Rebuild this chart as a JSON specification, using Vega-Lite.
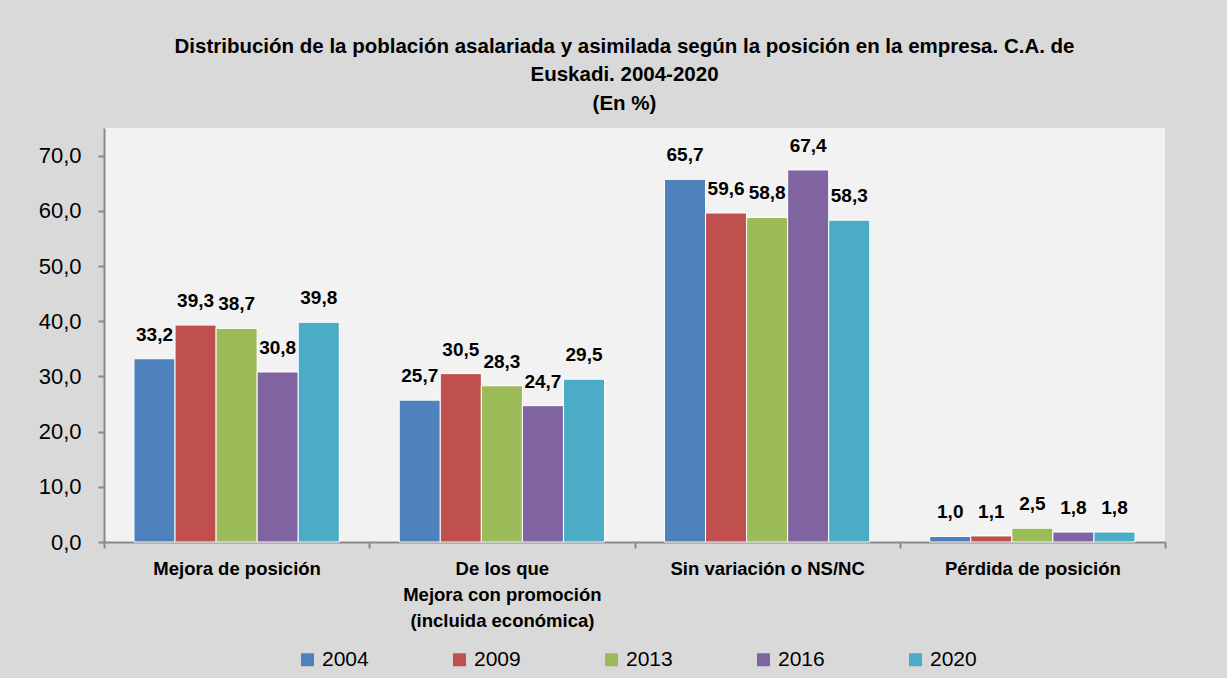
{
  "$schema": "https://vega.github.io/schema/vega-lite/v6.json",
  "autosize": {"type": "none"},
  "width": 1061,
  "height": 414,
  "padding": {"left": 104, "top": 128, "right": 62, "bottom": 136},
  "background": "#d9d9d9",
  "title": {
    "text": ["Distribución de la población asalariada y asimilada según la posición en la empresa. C.A. de", "Euskadi. 2004-2020", "(En %)"],
    "font": "Liberation Sans",
    "fontSize": 20.5,
    "fontWeight": "bold",
    "color": "#000000",
    "lineHeight": 28.5,
    "anchor": "middle",
    "frame": "group",
    "offset": 14,
    "dx": -10
  },
  "data": {
    "values": [
      {"cat": "Mejora de posición", "year": "2004", "value": 33.2},
      {"cat": "Mejora de posición", "year": "2009", "value": 39.3},
      {"cat": "Mejora de posición", "year": "2013", "value": 38.7},
      {"cat": "Mejora de posición", "year": "2016", "value": 30.8},
      {"cat": "Mejora de posición", "year": "2020", "value": 39.8},
      {"cat": "De los que|Mejora con promoción|(incluida económica)", "year": "2004", "value": 25.7},
      {"cat": "De los que|Mejora con promoción|(incluida económica)", "year": "2009", "value": 30.5},
      {"cat": "De los que|Mejora con promoción|(incluida económica)", "year": "2013", "value": 28.3},
      {"cat": "De los que|Mejora con promoción|(incluida económica)", "year": "2016", "value": 24.7},
      {"cat": "De los que|Mejora con promoción|(incluida económica)", "year": "2020", "value": 29.5},
      {"cat": "Sin variación o NS/NC", "year": "2004", "value": 65.7},
      {"cat": "Sin variación o NS/NC", "year": "2009", "value": 59.6},
      {"cat": "Sin variación o NS/NC", "year": "2013", "value": 58.8},
      {"cat": "Sin variación o NS/NC", "year": "2016", "value": 67.4},
      {"cat": "Sin variación o NS/NC", "year": "2020", "value": 58.3},
      {"cat": "Pérdida de posición", "year": "2004", "value": 1.0},
      {"cat": "Pérdida de posición", "year": "2009", "value": 1.1},
      {"cat": "Pérdida de posición", "year": "2013", "value": 2.5},
      {"cat": "Pérdida de posición", "year": "2016", "value": 1.8},
      {"cat": "Pérdida de posición", "year": "2020", "value": 1.8}
    ]
  },
  "encoding": {
    "x": {
      "field": "cat",
      "type": "nominal",
      "sort": null,
      "scale": {"paddingInner": 0, "paddingOuter": 0},
      "axis": {
        "title": null,
        "labelAngle": 0,
        "labelExpr": "split(datum.label, '|')",
        "labelFont": "Liberation Sans",
        "labelFontSize": 18.5,
        "labelFontWeight": "bold",
        "labelColor": "#000000",
        "labelLineHeight": 26,
        "labelBaseline": "top",
        "labelPadding": 11,
        "labelLimit": 400,
        "tickBand": "extent",
        "tickSize": 6,
        "tickColor": "#898989",
        "tickWidth": 2,
        "domainColor": "#898989",
        "domainWidth": 2
      }
    },
    "xOffset": {
      "field": "year",
      "type": "nominal",
      "scale": {"paddingInner": 0, "paddingOuter": 0.73}
    },
    "y": {
      "field": "value",
      "type": "quantitative",
      "scale": {"domain": [0, 75], "nice": false},
      "axis": {
        "title": null,
        "values": [0, 10, 20, 30, 40, 50, 60, 70],
        "labelExpr": "replace(format(datum.value, '.1f'), '.', ',')",
        "labelFont": "Liberation Sans",
        "labelFontSize": 22,
        "labelColor": "#000000",
        "labelPadding": 17,
        "grid": false,
        "tickSize": 6,
        "tickColor": "#898989",
        "tickWidth": 2,
        "domainColor": "#898989",
        "domainWidth": 2
      }
    }
  },
  "layer": [
    {
      "mark": {"type": "bar", "stroke": "#ffffff", "strokeWidth": 1},
      "encoding": {
        "color": {
          "field": "year",
          "type": "nominal",
          "scale": {"domain": ["2004", "2009", "2013", "2016", "2020"], "range": ["#4f81bd", "#c0504d", "#9bbb59", "#8064a2", "#4bacc6"]},
          "legend": {
            "title": null,
            "orient": "none",
            "legendX": 193,
            "legendY": 521,
            "direction": "horizontal",
            "columns": 5,
            "symbolType": "square",
            "symbolSize": 169,
            "symbolStrokeWidth": 0,
            "labelFont": "Liberation Sans",
            "labelFontSize": 21,
            "labelColor": "#000000",
            "labelOffset": 4,
            "columnPadding": 80,
            "padding": 0
          }
        }
      }
    },
    {
      "mark": {"type": "text", "font": "Liberation Sans", "fontSize": 19, "fontWeight": "bold", "color": "#000000", "baseline": "middle", "dy": -24},
      "encoding": {
        "text": {"field": "value", "type": "quantitative", "format": ".1f"}
      }
    }
  ],
  "config": {
    "view": {"fill": "#f2f2f2", "stroke": null},
    "locale": {"number": {"decimal": ",", "thousands": ".", "grouping": [3], "currency": ["", " €"]}}
  }
}
